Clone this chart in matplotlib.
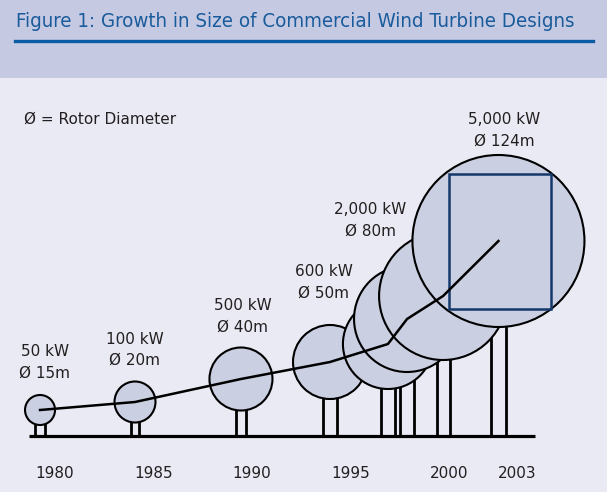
import matplotlib
matplotlib.use("Agg")
import matplotlib.pyplot as plt
from matplotlib.patches import Ellipse, Rectangle
from matplotlib.lines import Line2D

# turbines (oldest -> newest), heights/radii in drawing units above ground
turbine_year = [1979.24, 1984.06, 1989.44, 1993.96, 1996.9, 1997.87, 1999.7, 2002.51]
hub_height = [26, 34, 57, 74, 92, 117, 140, 195]
rotor_radius = [15, 20.5, 31.5, 37, 45, 53, 64, 86]
pole_gap = [5, 4, 5, 7, 7, 7, 6.5, 7.5]

power_labels = ["50 kW", "100 kW", "500 kW", "600 kW", "2,000 kW", "5,000 kW"]
diam_labels = ["Ø 15m", "Ø 20m", "Ø 40m", "Ø 50m", "Ø 80m", "Ø 124m"]
label_year = [1979.49, 1984.06, 1989.54, 1993.65, 1995.99, 2002.79]
label_height = [84, 97, 130, 164, 226, 316]

tick_years = [1980, 1985, 1990, 1995, 2000, 2003]
tick_nudge = [0, 0, 0, 0, 0, 9]  # px, the 2003 label sits a bit right in the original

PX_PER_YEAR = 19.7
W, H = 607, 492
fill = "#cbcfe2"
ink = "#231f20"

fig = plt.figure(figsize=(W / 100, H / 100), dpi=100)
fig.patch.set_facecolor("#e9eaf3")

# header band
fig.patches.append(Rectangle((0, 1 - 78 / H), 1, 78 / H, transform=fig.transFigure,
                             facecolor="#c5c9e2", edgecolor="none", zorder=0))
fig.text(16 / W, 1 - 27 / H, "Figure 1: Growth in Size of Commercial Wind Turbine Designs",
         fontsize=14.7, color="#1a5b9b", family="DejaVu Sans", fontstretch="condensed",
         va="baseline", ha="left")
fig.lines.append(Line2D([15 / W, 593 / W], [1 - 41 / H, 1 - 41 / H], transform=fig.transFigure,
                        color="#0b5ba7", lw=2.4))

ax = fig.add_axes([0, 0, 1, 1])
ax.set_facecolor("none")
ax.axis("off")
ax.set_xlim(1980 - 55 / PX_PER_YEAR, 1980 + (W - 55) / PX_PER_YEAR)
ax.set_ylim(-(H - 436), 436)

# towers
for i, (yr, hh, g) in enumerate(zip(turbine_year, hub_height, pole_gap)):
    for s in (-1, 1):
        xp = yr + s * g / PX_PER_YEAR
        ax.plot([xp, xp], [0, hh], color="black", lw=2.0, solid_capstyle="butt", zorder=1)

# rotors
for i, (yr, hh, r) in enumerate(zip(turbine_year, hub_height, rotor_radius)):
    ax.add_patch(Ellipse((yr, hh), 2 * r / PX_PER_YEAR, 2 * r, facecolor=fill,
                         edgecolor="black", lw=1.5, zorder=2 + i))

# square inside the largest rotor
yr, hh, r = turbine_year[-1], hub_height[-1], rotor_radius[-1]
ax.add_patch(Rectangle((yr - 0.58 * r / PX_PER_YEAR, hh - 0.79 * r),
                       1.19 * r / PX_PER_YEAR, 1.57 * r, facecolor="none",
                       edgecolor="#15386b", lw=1.8, zorder=12))

# growth line through hubs
ax.plot(turbine_year, hub_height, color="black", lw=1.8, zorder=20,
        solid_joinstyle="miter")

# ground
ax.plot([1978.68, 2004.37], [0, 0], color="black", lw=2.3, solid_capstyle="butt", zorder=15)

for x, y, p, d in zip(label_year, label_height, power_labels, diam_labels):
    ax.text(x, y, p, ha="center", va="center", fontsize=11, color=ink)
    ax.text(x, y - 21, d, ha="center", va="center", fontsize=11, color=ink)

for t, n in zip(tick_years, tick_nudge):
    ax.text(t + n / PX_PER_YEAR, -37, str(t), ha="center", va="center", fontsize=11, color=ink)

ax.text(1980 - 31 / PX_PER_YEAR, 317, "Ø = Rotor Diameter", ha="left", va="center",
        fontsize=11, color=ink)

fig.savefig("out.png", dpi=100, facecolor=fig.get_facecolor())
